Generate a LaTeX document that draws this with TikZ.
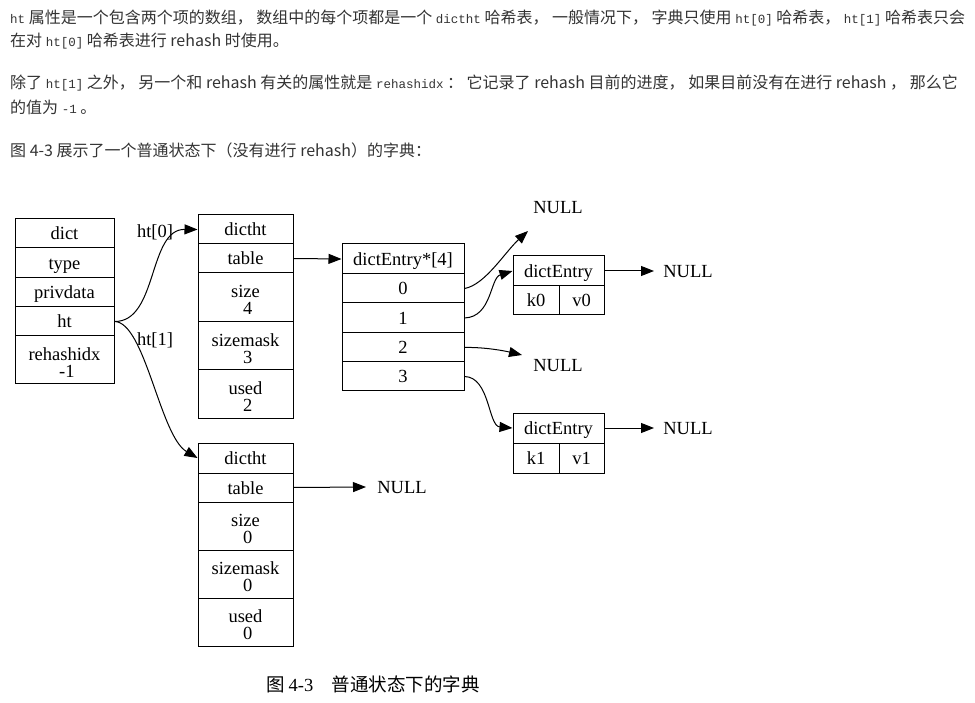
\documentclass[tikz,border=0pt]{standalone}
\usepackage{fontspec}
\setmainfont{Liberation Serif}
\newfontfamily\cjk{Noto Sans CJK SC}
\newfontfamily\codefont{Liberation Mono}
\usetikzlibrary{arrows.meta}
\definecolor{bodytext}{HTML}{333333}
\newcommand{\dfont}{\fontsize{18.5}{17}\selectfont}
\newcommand{\bfont}{\cjk\fontsize{16}{18}\selectfont}
\newcommand{\cd}[1]{{\codefont\fontsize{12.5}{14}\selectfont #1}}
\newcommand{\fl}{\rule{0pt}{18pt}}
\begin{document}
\begin{tikzpicture}[x=1pt,y=-1pt,
  cell/.style={draw, line width=1pt, inner sep=0pt, align=center, font=\dfont},
  one/.style={text height=16pt, text depth=3pt},
  nulltxt/.style={inner sep=0pt, font=\dfont, text height=16pt, text depth=3pt},
  arr/.style={-{Triangle[length=13pt,width=10pt]}, line width=1pt},
  body/.style={anchor=west, inner sep=0pt, font=\bfont, text=bodytext}]
\useasboundingbox (0,0) rectangle (975,703);

% body text
\node[body] (l1) at (10,18) {\cd{ht} 属性是一个包含两个项的数组， 数组中的每个项都是一个 \cd{dictht} 哈希表， 一般情况下， 字典只使用 \cd{ht[0]} 哈希表， \cd{ht[1]} 哈希表只会};
\node[body] (l2) at (10,41) {在对 \cd{ht[0]} 哈希表进行 rehash 时使用。};
\node[body] (l3) at (10,83) {除了 \cd{ht[1]} 之外， 另一个和 rehash 有关的属性就是 \cd{rehashidx} ： 它记录了 rehash 目前的进度， 如果目前没有在进行 rehash ， 那么它};
\node[body] (l4) at (10,107) {的值为 \cd{-1} 。};
\node[body] (l5) at (10,150) {图 4-3 展示了一个普通状态下（没有进行 rehash）的字典：};

% dict
\node[cell,one,minimum width=99pt,minimum height=29pt] (dict) at (64.5,233.5) {dict};
\node[cell,one,minimum width=99pt,minimum height=30pt] (type) at (64.5,263) {type};
\node[cell,one,minimum width=99pt,minimum height=29pt] (priv) at (64.5,292.5) {privdata};
\node[cell,one,minimum width=99pt,minimum height=29pt] (ht) at (64.5,321.5) {ht};
\node[cell,minimum width=99pt,minimum height=48pt] (rh) at (64.5,360) {\fl rehashidx\\ \ -1};

% dictht 0
\node[cell,one,minimum width=95pt,minimum height=29pt] (a0) at (245.5,229.5) {dictht};
\node[cell,one,minimum width=95pt,minimum height=29pt] (a1) at (245.5,258.5) {table};
\node[cell,minimum width=95pt,minimum height=49pt] (a2) at (245.5,297.5) {\fl size\\ \ 4};
\node[cell,minimum width=95pt,minimum height=48pt] (a3) at (245.5,346) {\fl sizemask\\ \ 3};
\node[cell,minimum width=95pt,minimum height=48pt] (a4) at (245.5,394) {\fl used\\ \ 2};

% dictht 1
\node[cell,one,minimum width=95pt,minimum height=30pt] (b0) at (245.5,458) {dictht};
\node[cell,one,minimum width=95pt,minimum height=29pt] (b1) at (245.5,487.5) {table};
\node[cell,minimum width=95pt,minimum height=48pt] (b2) at (245.5,526) {\fl size\\ \ 0};
\node[cell,minimum width=95pt,minimum height=48pt] (b3) at (245.5,574) {\fl sizemask\\ \ 0};
\node[cell,minimum width=95pt,minimum height=48pt] (b4) at (245.5,622) {\fl used\\ \ 0};

% array
\node[cell,one,minimum width=122pt,minimum height=30pt] (t) at (403,259) {dictEntry*[4]};
\node[cell,one,minimum width=122pt,minimum height=29pt] (s0) at (403,288.5) {0};
\node[cell,one,minimum width=122pt,minimum height=30pt] (s1) at (403,318) {1};
\node[cell,one,minimum width=122pt,minimum height=29pt] (s2) at (403,347.5) {2};
\node[cell,one,minimum width=122pt,minimum height=29pt] (s3) at (403,376.5) {3};

% dictEntry 0
\node[cell,one,minimum width=91pt,minimum height=30pt] (e0) at (558.5,271) {dictEntry};
\node[cell,one,minimum width=46pt,minimum height=29pt] (k0) at (536,300.5) {k0};
\node[cell,one,minimum width=45pt,minimum height=29pt] (v0) at (581.5,300.5) {v0};

% dictEntry 1
\node[cell,one,minimum width=91pt,minimum height=30pt] (e1) at (558.5,428) {dictEntry};
\node[cell,one,minimum width=46pt,minimum height=30pt] (k1) at (536,458) {k1};
\node[cell,one,minimum width=45pt,minimum height=30pt] (v1) at (581.5,458) {v1};

% NULLs
\node[nulltxt] (ntop) at (558,207) {NULL};
\node[nulltxt] (n2) at (558,365) {NULL};
\node[nulltxt] (ne0) at (688,271) {NULL};
\node[nulltxt] (ne1) at (688,428) {NULL};
\node[nulltxt] (nb) at (402,487) {NULL};
\coordinate (ntoptip) at (528,231);
\coordinate (n2tip) at (522,355);
\coordinate (ne0tip) at (654,271);
\coordinate (ne1tip) at (654,428);
\coordinate (nbtip) at (366,487);

% labels
\node[nulltxt] (lab0) at (155,231) {ht[0]};
\node[nulltxt] (lab1) at (155,339) {ht[1]};

% connectors
\draw[arr] (ht.east) .. controls (158,322) and (148,229) .. (a0.west);
\draw[arr] (ht.east) .. controls (145,322) and (160,436) .. (b0.west);
\draw[arr] (a1.east) -- (t.west);
\draw[arr] (b1.east) -- (nbtip);
\draw[arr] (s0.east) .. controls (485,285) and (505,252) .. (ntoptip);
\draw[arr] (s1.east) .. controls (492,317) and (490,278) .. (e0.west);
\draw[arr] (s2.east) .. controls (485,347) and (505,351) .. (n2tip);
\draw[arr] (s3.east) .. controls (490,377) and (488,426) .. (e1.west);
\draw[arr] (e0.east) -- (ne0tip);
\draw[arr] (e1.east) -- (ne1tip);

% caption
\node[inner sep=0pt, font=\cjk\fontsize{18.5}{20}\selectfont] (cap) at (373,684) {图 {\rmfamily 4-3}\quad 普通状态下的字典};
\end{tikzpicture}
\end{document}
